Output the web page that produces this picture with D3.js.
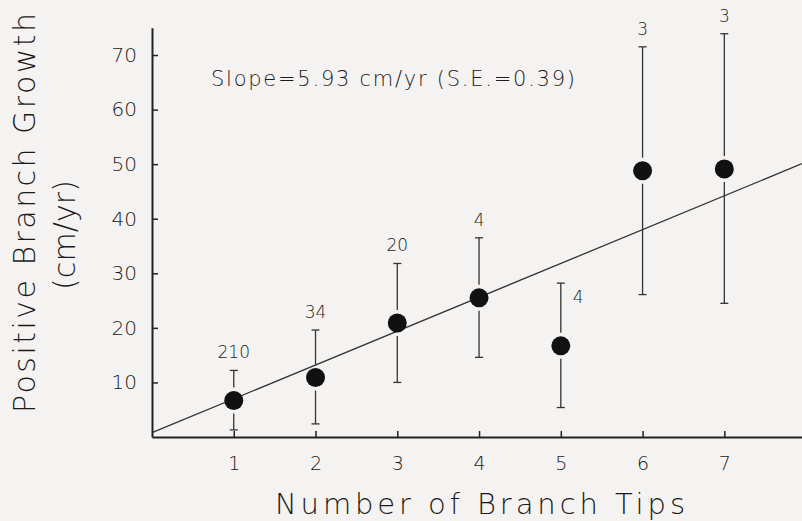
<!DOCTYPE html>
<html>
<head>
<meta charset="utf-8">
<script src="https://cdn.jsdelivr.net/npm/d3@7"></script>
<style>
  html, body { margin: 0; padding: 0; background: #f5f3f1; }
  svg { display: block; }
  text { font-family: "DejaVu Sans", sans-serif; font-weight: 200; fill: #1a1a1a; }
</style>
</head>
<body>
<script>
// ---- data ----
const tips       = [1, 2, 3, 4, 5, 6, 7];
const meanGrowth = [6.7, 10.9, 20.9, 25.5, 16.7, 48.8, 49.1];
const upperBar   = [12.2, 19.6, 31.8, 36.5, 28.2, 71.5, 73.9];
const lowerBar   = [1.3, 2.4, 10.0, 14.6, 5.4, 26.1, 24.5];
const sampleN    = ["210", "34", "20", "4", "4", "3", "3"];
const nLabelSide = ["top", "top", "top", "top", "right", "top", "top"];
const xTicks     = [1, 2, 3, 4, 5, 6, 7];
const yTicks     = [10, 20, 30, 40, 50, 60, 70];
const fitIntercept = 0.8;
const fitSlope     = 6.2;
const slopeText  = "Slope=5.93 cm/yr (S.E.=0.39)";

// ---- layout ----
const W = 802, H = 521;
const svg = d3.select("body").append("svg").attr("width", W).attr("height", H);
svg.append("rect").attr("width", W).attr("height", H).attr("fill", "#f5f3f1");

const x = d3.scaleLinear().domain([0, 7.95]).range([152, 802]);
const y = d3.scaleLinear().domain([0, 75]).range([437, 437 - 75 * 5.457]);

// regression line
svg.append("line")
  .attr("x1", x(0)).attr("y1", y(fitIntercept))
  .attr("x2", x(7.95)).attr("y2", y(fitIntercept + fitSlope * 7.95))
  .attr("stroke", "#333").attr("stroke-width", 1.3);

// axes
const xAxis = d3.axisBottom(x).tickValues(xTicks).tickFormat(d3.format("d"))
  .tickSizeInner(-6).tickSizeOuter(0).tickPadding(20);
const gx = svg.append("g").attr("transform", `translate(0,${y(0)})`).call(xAxis);
gx.select(".domain").attr("stroke", "#222").attr("stroke-width", 2);
gx.selectAll(".tick line").attr("stroke", "#222").attr("stroke-width", 1.5);
gx.selectAll(".tick text").attr("font-size", 19).attr("fill", "#1a1a1a")
  .attr("font-family", "DejaVu Sans").attr("font-weight", 200);

const yAxis = d3.axisLeft(y).tickValues(yTicks).tickFormat(d3.format("d"))
  .tickSizeInner(-6).tickSizeOuter(0).tickPadding(15);
const gy = svg.append("g").attr("transform", `translate(${x(0)},0)`).call(yAxis);
gy.select(".domain").attr("stroke", "#222").attr("stroke-width", 2);
gy.selectAll(".tick line").attr("stroke", "#222").attr("stroke-width", 1.5);
gy.selectAll(".tick text").attr("font-size", 20).attr("fill", "#1a1a1a")
  .attr("font-family", "DejaVu Sans").attr("font-weight", 200);

// error bars
const R = 9.5, GAP = 3.5, CAP = 4;
const pts = tips.map((t, i) => ({t, m: meanGrowth[i], hi: upperBar[i], lo: lowerBar[i], n: sampleN[i], side: nLabelSide[i]}));
const eb = svg.append("g").attr("stroke", "#333").attr("stroke-width", 1.3);
pts.forEach(p => {
  const cx = x(p.t), cy = y(p.m);
  eb.append("line").attr("x1", cx).attr("x2", cx).attr("y1", y(p.hi)).attr("y2", cy - R - GAP);
  eb.append("line").attr("x1", cx).attr("x2", cx).attr("y1", cy + R + GAP).attr("y2", y(p.lo));
  eb.append("line").attr("x1", cx - CAP).attr("x2", cx + CAP).attr("y1", y(p.hi)).attr("y2", y(p.hi));
  eb.append("line").attr("x1", cx - CAP).attr("x2", cx + CAP).attr("y1", y(p.lo)).attr("y2", y(p.lo));
});

// dots
svg.append("g").selectAll("circle").data(pts).join("circle")
  .attr("cx", d => x(d.t)).attr("cy", d => y(d.m)).attr("r", R).attr("fill", "#111");

// n labels
svg.append("g").selectAll("text").data(pts).join("text")
  .attr("font-size", 17)
  .attr("text-anchor", d => d.side === "top" ? "middle" : "start")
  .attr("x", d => d.side === "top" ? x(d.t) : x(d.t) + 12)
  .attr("y", d => d.side === "top" ? y(d.hi) - 12 : y(d.hi) + 19.5)
  .text(d => d.n);

// slope annotation
svg.append("text").attr("x", 211).attr("y", 86).attr("font-size", 21)
  .attr("textLength", 364).attr("lengthAdjust", "spacing").text(slopeText);

// axis titles
svg.append("text").attr("x", 480).attr("y", 514).attr("text-anchor", "middle")
  .attr("font-size", 29).attr("textLength", 410).attr("lengthAdjust", "spacing")
  .text("Number of Branch Tips");

svg.append("text").attr("transform", "translate(35,213) rotate(-90)")
  .attr("text-anchor", "middle").attr("font-size", 30)
  .attr("textLength", 400).attr("lengthAdjust", "spacing")
  .text("Positive Branch Growth");
svg.append("text").attr("transform", "translate(75,235) rotate(-90)")
  .attr("text-anchor", "middle").attr("font-size", 30)
  .attr("textLength", 110).attr("lengthAdjust", "spacing")
  .text("(cm/yr)");
</script>
</body>
</html>
